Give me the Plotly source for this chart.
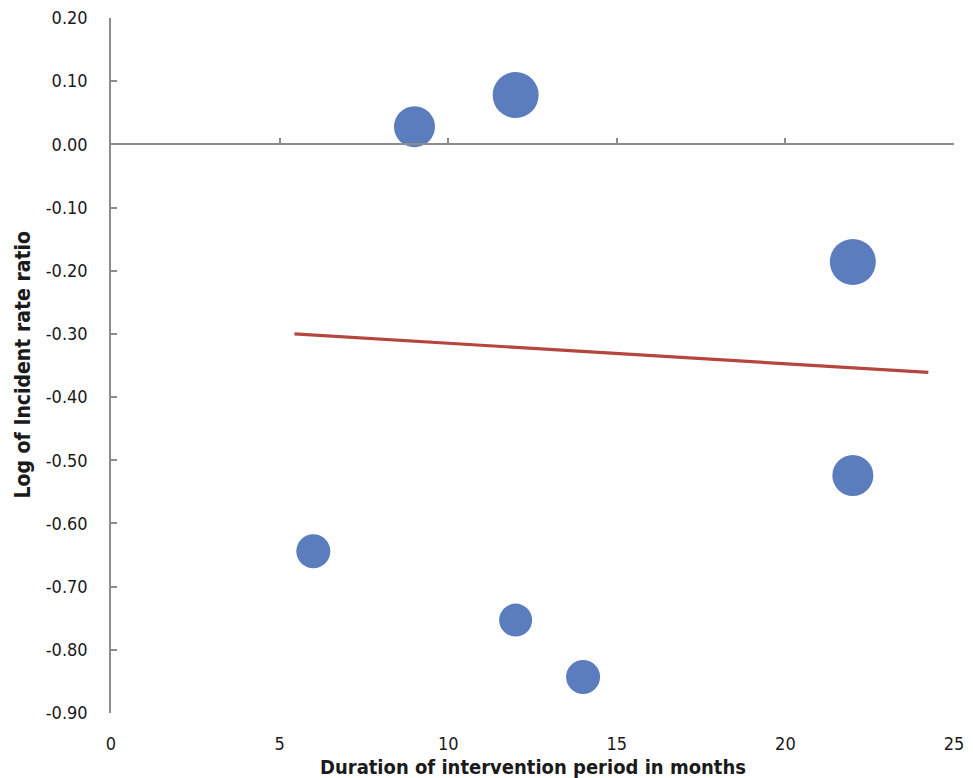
import plotly.graph_objects as go

# Data
duration_months = [9, 12, 22, 22, 6, 12, 14]
log_irr = [0.028, 0.078, -0.186, -0.524, -0.644, -0.753, -0.843]
bubble_weight = [41, 46, 46, 41, 34, 33, 34]

trend_x = [5.44, 24.24]
trend_y = [-0.300, -0.361]

x_ticks = [0, 5, 10, 15, 20, 25]
y_ticks = [0.20, 0.10, 0.00, -0.10, -0.20, -0.30, -0.40, -0.50, -0.60, -0.70, -0.80, -0.90]
y_tick_labels = ["0.20", "0.10", "0.00", "-0.10", "-0.20", "-0.30", "-0.40",
                 "-0.50", "-0.60", "-0.70", "-0.80", "-0.90"]

x_title = "Duration of intervention period in months"
y_title = "Log of Incident rate ratio"

x_range = [0, 25]
y_range = [-0.90, 0.20]

FONT = "DejaVu Sans Condensed, Liberation Sans Narrow, sans-serif"
AXIS_COLOR = "#8c8c8c"
TXT = "#1a1a1a"

fig = go.Figure()

fig.add_trace(go.Scatter(
    x=duration_months, y=log_irr, mode="markers",
    marker=dict(size=bubble_weight, sizemode="diameter", sizeref=1,
                color="#5b7dbd", opacity=1, line=dict(width=0)),
    showlegend=False, hoverinfo="x+y",
))

fig.add_trace(go.Scatter(
    x=trend_x, y=trend_y, mode="lines",
    line=dict(color="#b5463f", width=3.2),
    showlegend=False, hoverinfo="skip",
))

zero_pos = (0 - y_range[0]) / (y_range[1] - y_range[0])

fig.update_layout(
    width=957, height=770,
    margin=dict(l=103, r=11, t=10, b=65),
    paper_bgcolor="white", plot_bgcolor="white",
    font=dict(family=FONT, color=TXT, size=18),
    xaxis=dict(
        range=x_range, tickvals=x_ticks, showgrid=False, zeroline=False,
        showline=True, linecolor=AXIS_COLOR, linewidth=1.5,
        anchor="free", position=zero_pos, automargin=False,
        ticks="inside", ticklen=6, tickcolor=AXIS_COLOR, tickwidth=1.5,
        showticklabels=False,
    ),
    xaxis2=dict(
        range=x_range, tickvals=x_ticks, matches="x", overlaying="x",
        anchor="y", side="bottom", showgrid=False, zeroline=False,
        showline=False, ticks="", showticklabels=True, automargin=False,
        tickfont=dict(family=FONT, size=18, color=TXT),
        ticklabelstandoff=18, ticklabeloverflow="allow",
    ),
    yaxis=dict(
        range=y_range, tickvals=y_ticks, ticktext=y_tick_labels,
        showgrid=False, zeroline=False, automargin=False,
        showline=True, linecolor=AXIS_COLOR, linewidth=1.5,
        ticks="inside", ticklen=6, tickcolor=AXIS_COLOR, tickwidth=1.5,
        tickfont=dict(family=FONT, size=18, color=TXT),
        ticklabelstandoff=18, ticklabeloverflow="allow",
    ),
    annotations=[
        dict(text=f"<b>{x_title}</b>", xref="paper", yref="paper", x=0.5, y=0,
             xanchor="center", yanchor="middle", yshift=-54, showarrow=False,
             font=dict(family=FONT, size=20, color=TXT)),
        dict(text=f"<b>{y_title}</b>", xref="paper", yref="paper", x=0, y=0.5,
             xanchor="center", yanchor="middle", xshift=-89, textangle=-90,
             showarrow=False, font=dict(family=FONT, size=21, color=TXT)),
    ],
)

# invisible trace so xaxis2 is rendered
fig.add_trace(go.Scatter(x=[x_range[0]], y=[y_range[0]], xaxis="x2", mode="markers",
                         marker=dict(opacity=0), showlegend=False, hoverinfo="skip"))

fig.write_html("out.html")
